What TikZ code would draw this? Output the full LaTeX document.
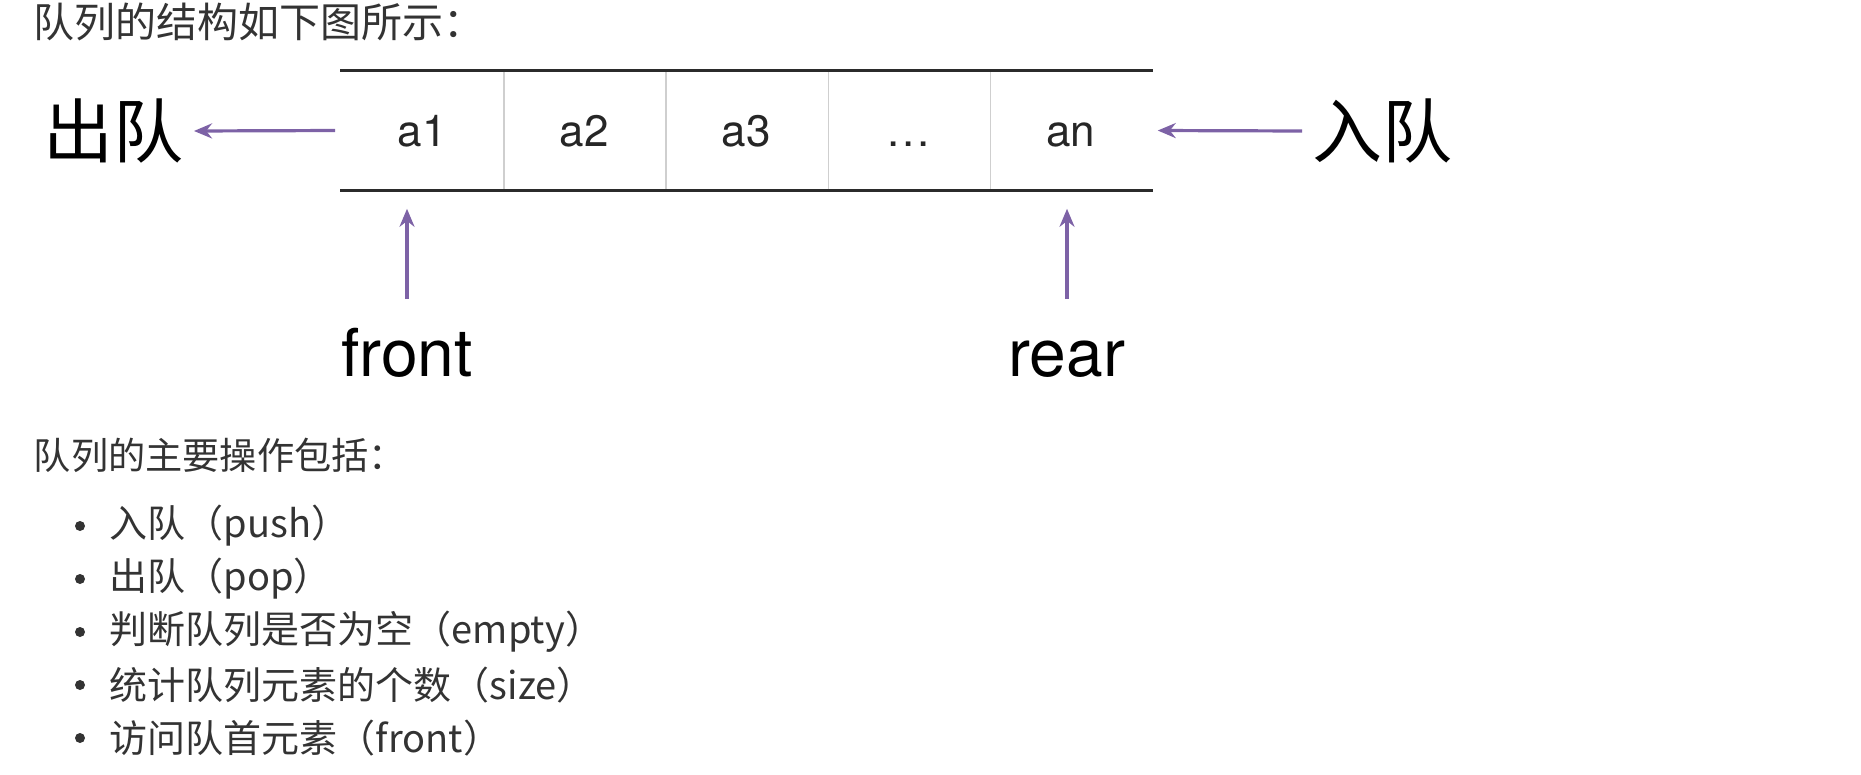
\documentclass[tikz,border=0pt]{standalone}
\usepackage{fontspec}
\setmainfont{TeX Gyre Heros}
\newfontfamily\cjk{Noto Sans CJK SC}
\usetikzlibrary{arrows.meta}
\definecolor{qpurple}{HTML}{7D62A6}
\definecolor{qtext}{HTML}{333333}
\definecolor{qrule}{HTML}{2B2B2B}
\definecolor{qgrid}{HTML}{CFCFCF}

\begin{document}
\begin{tikzpicture}[
            x = 0.5pt, y = -0.5pt, % one unit = one screen pixel
            > = {Stealth[length=9pt, width=7.5pt]}, % arrow head style
            node distance = 81.1pt, % cell to cell
            thick % line style
        ]

        \tikzstyle{cell}=[
            minimum width = 81.1pt,
            minimum height = 59.5pt,
            inner sep = 0pt,
            text height = 16pt, text depth = 0pt,
            text = black!85,
            font = \fontsize{22pt}{25pt}\selectfont
        ]
        \tikzstyle{big}=[inner sep = 5pt, font = \cjk\fontsize{35pt}{40pt}\selectfont]
        \tikzstyle{ptr}=[inner sep = 2pt, text height = 24pt, text depth = 0pt,
            font = \fontsize{33pt}{38pt}\selectfont]
        \tikzstyle{body}=[inner sep = 0pt, anchor = west, text = qtext,
            font = \cjk\fontsize{19pt}{22pt}\selectfont]
        \tikzstyle{dot}=[circle, fill = qtext, inner sep = 0pt, minimum size = 5pt]
        \tikzstyle{qarrow}=[->, draw = qpurple, fill = qpurple, line width = 1.6pt]

        \useasboundingbox (0,0) rectangle (1861,775);

        \node[body, font = \cjk\fontsize{20.5pt}{24pt}\selectfont] (title) at (33,22) {队列的结构如下图所示：};

        % the queue
        \node[cell] (c1) at (422,130.5) {a1};
        \node[cell] (c2) [right of=c1] {a2};
        \node[cell] (c3) [right of=c2] {a3};
        \node[cell] (c4) [right of=c3] {.\kern1.5pt.\kern1.5pt.};
        \node[cell] (c5) [right of=c4] {an};

        \foreach \i in {1,...,4}
            \draw[qgrid, line width = 0.8pt] (c\i.north east) -- (c\i.south east);
        \draw[qrule, line width = 1.5pt] (c1.north west) -- (c5.north east);
        \draw[qrule, line width = 1.5pt] (c1.south west) -- (c5.south east);

        \node[big, anchor = east] (deq) at (194,131) {出队};
        \node[big, anchor = west] (enq) at (1302,131) {入队};
        \node[ptr, anchor = base] (front) at (407,376) {front};
        \node[ptr, anchor = base] (rear) at (1067,376) {rear};

        \draw[qarrow, shorten < = 2.5pt] (c1.west) -- (deq.east);
        \draw[qarrow, shorten > = 2.5pt] (enq.west) -- (c5.east);
        \draw[qarrow, shorten < = 12pt, shorten > = 9pt] (front.north) -- (front.north |- c1.south);
        \draw[qarrow, shorten < = 12pt, shorten > = 9pt] (rear.north) -- (rear.north |- c5.south);

        % operations
        \node[body, font = \cjk\fontsize{18.6pt}{22pt}\selectfont] (ops) at (33,455) {队列的主要操作包括：};
        \foreach \txt [count=\i, evaluate=\i as \yy using 473+53*\i] in
            {入队（push）, 出队（pop）, 判断队列是否为空（empty）, 统计队列元素的个数（size）, 访问队首元素（front）} {
            \node[dot] (d\i) at (80,\yy) {};
            \node[body] (op\i) at (109,\yy) {\txt};
        }

  \end{tikzpicture}
\end{document}
